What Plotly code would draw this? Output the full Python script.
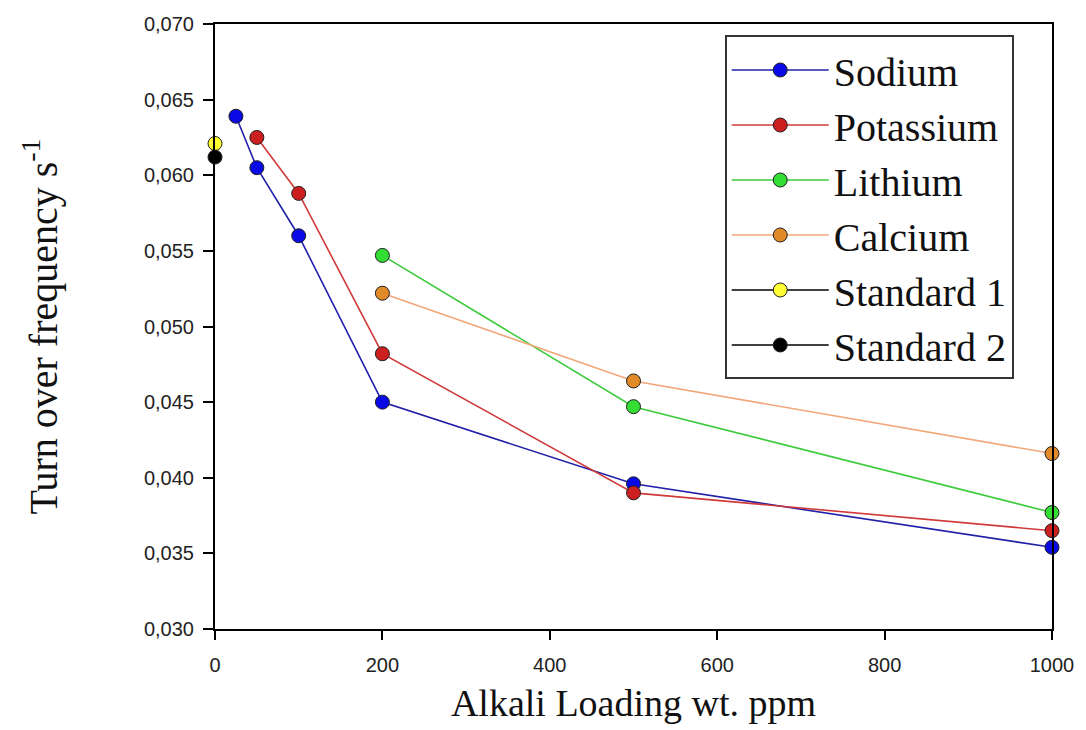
import plotly.graph_objects as go

# Data
sodium_x = [25, 50, 100, 200, 500, 1000]
sodium_y = [0.0639, 0.0605, 0.0560, 0.0450, 0.0396, 0.0354]
potassium_x = [50, 100, 200, 500, 1000]
potassium_y = [0.0625, 0.0588, 0.0482, 0.0390, 0.0365]
lithium_x = [200, 500, 1000]
lithium_y = [0.0547, 0.0447, 0.0377]
calcium_x = [200, 500, 1000]
calcium_y = [0.0522, 0.0464, 0.0416]
standard1_x = [0]
standard1_y = [0.0621]
standard2_x = [0]
standard2_y = [0.0612]

x_ticks = [0, 200, 400, 600, 800, 1000]
y_ticks = [0.030, 0.035, 0.040, 0.045, 0.050, 0.055, 0.060, 0.065, 0.070]

series = [
    ("Sodium", sodium_x, sodium_y, "#2020A8", "#0A0AE6"),
    ("Potassium", potassium_x, potassium_y, "#D03A3A", "#CC1F1F"),
    ("Lithium", lithium_x, lithium_y, "#3CCB3C", "#33DD33"),
    ("Calcium", calcium_x, calcium_y, "#F2A77A", "#E08A2A"),
    ("Standard 1", standard1_x, standard1_y, "#000000", "#FFFF33"),
    ("Standard 2", standard2_x, standard2_y, "#000000", "#000000"),
]

fig = go.Figure()
for name, xs, ys, lc, mc in series:
    fig.add_trace(go.Scatter(
        x=xs, y=ys, name=name, mode="lines+markers",
        line=dict(color=lc, width=1.6),
        marker=dict(color=mc, size=14, line=dict(color="#202020", width=1)),
        cliponaxis=False,
    ))

fig.update_layout(
    width=1086, height=730,
    margin=dict(l=215, r=29, t=24, b=101),
    paper_bgcolor="white", plot_bgcolor="white",
    separators=",.",
    showlegend=True,
    legend=dict(
        x=0.609, y=0.981, xanchor="left", yanchor="top",
        bgcolor="white", bordercolor="#333333", borderwidth=2,
        font=dict(family="Liberation Serif", size=40, color="#111111"),
        itemwidth=97,
        tracegroupgap=0,
    ),
    xaxis=dict(
        range=[0, 1000], tickvals=x_ticks, tickformat="d",
        showline=True, linecolor="black", linewidth=2, mirror=True,
        ticks="outside", ticklen=9, tickwidth=1.5, tickcolor="black",
        ticklabelstandoff=8,
        showgrid=False, zeroline=False,
        tickfont=dict(family="Liberation Sans", size=20, color="#222222"),
        title=dict(text="Alkali Loading wt. ppm",
                   font=dict(family="Liberation Serif", size=38, color="#111111"),
                   standoff=14),
    ),
    yaxis=dict(
        range=[0.030, 0.070], tickvals=y_ticks, tickformat=".3f",
        showline=True, linecolor="black", linewidth=2, mirror=True,
        ticks="outside", ticklen=10, tickwidth=1.5, tickcolor="black",
        ticklabelstandoff=5,
        showgrid=False, zeroline=False,
        tickfont=dict(family="Liberation Sans", size=20, color="#222222"),
        title=dict(text="Turn over frequency s<sup>-1</sup>",
                   font=dict(family="Liberation Serif", size=40, color="#111111"),
                   standoff=74),
    ),
)

fig.write_html("out.html", config={"displayModeBar": False},
               post_script="document.body.style.margin='0';")
